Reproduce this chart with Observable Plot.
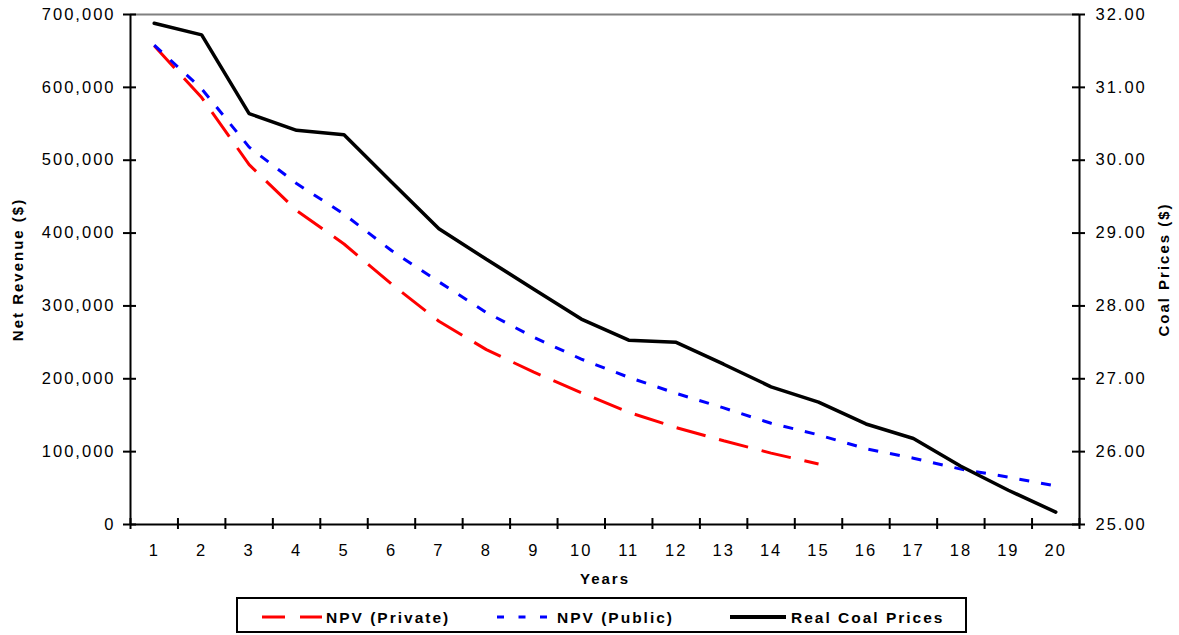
<!DOCTYPE html>
<html>
<head>
<meta charset="utf-8">
<script src="https://cdn.jsdelivr.net/npm/d3@7"></script>
<script src="https://cdn.jsdelivr.net/npm/@observablehq/plot@0.6"></script>
<style>
  body { margin: 0; background: #fff; }
  #wrap { position: relative; width: 1179px; height: 635px; background: #fff; overflow: hidden; }
  #wrap > svg.chart { position: absolute; left: 0; top: 0; }
  #wrap > svg#legend { position: absolute; left: 236px; top: 597px; }
</style>
</head>
<body>
<div id="wrap"></div>
<script>
// ---- data ----
const years = [1,2,3,4,5,6,7,8,9,10,11,12,13,14,15,16,17,18,19,20];
const npvPrivate = [657000, 586000, 494000, 431000, 385000, 330000, 279000, 240000, 209000, 181000, 154000, 133000, 115000, 98000, 83000];
const npvPublic = [658000, 598000, 518000, 468000, 426000, 376000, 333000, 291000, 257000, 227000, 202000, 180000, 160000, 139000, 123000, 104000, 91000, 76000, 65000, 53000];
const coalPrices = [31.88, 31.72, 30.64, 30.41, 30.35, 29.70, 29.06, 28.64, 28.23, 27.82, 27.53, 27.50, 27.20, 26.89, 26.68, 26.38, 26.18, 25.80, 25.47, 25.17];
const revenueTicks = [0, 100000, 200000, 300000, 400000, 500000, 600000, 700000];
const priceTicks = [25, 26, 27, 28, 29, 30, 31, 32];
const seriesNames = ["NPV (Private)", "NPV (Public)", "Real Coal Prices"];

// map right-axis prices onto the left-axis scale (25 -> 0, 32 -> 700,000)
const priceBase = priceTicks[0];
const priceUnit = (revenueTicks[revenueTicks.length - 1] - revenueTicks[0]) / (priceTicks[priceTicks.length - 1] - priceTicks[0]);
const priceToRev = p => (p - priceBase) * priceUnit;

const privateData = npvPrivate.map((v, i) => ({year: years[i], value: v}));
const publicData = npvPublic.map((v, i) => ({year: years[i], value: v}));
const coalData = coalPrices.map((v, i) => ({year: years[i], price: v}));

const xMin = years[0] - 0.5, xMax = years[years.length - 1] + 0.5;
const bandEdges = [xMin, ...years.map(y => y + 0.5)];

const font = "'Liberation Sans', Arial, Helvetica, sans-serif";

const chart = Plot.plot({
  className: "chart",
  width: 1179,
  height: 592,
  marginLeft: 130,
  marginRight: 100,
  marginTop: 14,
  marginBottom: 68,
  style: {fontFamily: font, fontSize: "16.5px", color: "#000", background: "#fff", letterSpacing: "2px"},
  x: {type: "linear", domain: [xMin, xMax]},
  y: {domain: [revenueTicks[0], revenueTicks[revenueTicks.length - 1]]},
  marks: [
    // frame
    Plot.ruleY([revenueTicks[revenueTicks.length - 1]], {stroke: "#808080", strokeWidth: 2}),
    Plot.ruleX([xMin], {stroke: "#000", strokeWidth: 2}),
    Plot.ruleX([xMax], {stroke: "#000", strokeWidth: 2}),
    Plot.ruleY([revenueTicks[0]], {stroke: "#000", strokeWidth: 2}),
    // crossing tick marks
    Plot.ruleY(revenueTicks, {y: d => d, x1: xMin, x2: xMin, insetLeft: -7, insetRight: -6, stroke: "#000", strokeWidth: 2}),
    Plot.ruleY(priceTicks, {y: priceToRev, x1: xMax, x2: xMax, insetLeft: -7, insetRight: -6, stroke: "#000", strokeWidth: 2}),
    Plot.ruleX(bandEdges, {x: d => d, y1: 0, y2: 0, insetTop: -6, insetBottom: -5, stroke: "#000", strokeWidth: 2}),
    // tick labels
    Plot.axisY({anchor: "left", ticks: revenueTicks, tickSize: 0, tickPadding: 15, tickFormat: d3.format(","), label: null}),
    Plot.axisY({anchor: "right", ticks: priceTicks.map(priceToRev), tickSize: 0, tickPadding: 16, tickFormat: d => (priceBase + d / priceUnit).toFixed(2), label: null}),
    Plot.axisX({anchor: "bottom", ticks: years, tickSize: 0, tickPadding: 20, tickFormat: d => String(d), label: null}),
    // axis titles
    Plot.text(["Net Revenue ($)"], {text: d => d, frameAnchor: "left", textAnchor: "middle", lineAnchor: "middle", dx: -112, rotate: -90, fontWeight: "bold", fontSize: 15}),
    Plot.text(["Coal Prices ($)"], {text: d => d, frameAnchor: "right", textAnchor: "middle", lineAnchor: "middle", dx: 85, rotate: -90, fontWeight: "bold", fontSize: 15}),
    Plot.text(["Years"], {text: d => d, frameAnchor: "bottom", textAnchor: "middle", lineAnchor: "middle", dy: 55, fontWeight: "bold", fontSize: 15}),
    // series
    Plot.line(privateData, {x: "year", y: "value", stroke: "#ff0000", strokeWidth: 3, strokeDasharray: "30,14", strokeLinecap: "butt", strokeLinejoin: "miter"}),
    Plot.line(publicData, {x: "year", y: "value", stroke: "#0000ff", strokeWidth: 3, strokeDasharray: "10,12", strokeLinecap: "butt", strokeLinejoin: "miter"}),
    Plot.line(coalData, {x: "year", y: d => priceToRev(d.price), stroke: "#000", strokeWidth: 3.5, strokeLinejoin: "miter"})
  ]
});

const wrap = document.getElementById("wrap");
wrap.appendChild(chart);

// legend (below the plot)
const ns = "http://www.w3.org/2000/svg";
const leg = document.createElementNS(ns, "svg");
leg.setAttribute("id", "legend");
leg.setAttribute("width", 731);
leg.setAttribute("height", 36);
leg.style.fontFamily = font;
leg.style.fontWeight = "bold";
leg.style.fontSize = "15.5px";
leg.style.letterSpacing = "2px";
function el(tag, attrs, text) {
  const e = document.createElementNS(ns, tag);
  for (const k in attrs) e.setAttribute(k, attrs[k]);
  if (text != null) e.textContent = text;
  leg.appendChild(e);
  return e;
}
el("rect", {x: 1, y: 1, width: 729, height: 34, fill: "#fff", stroke: "#000", "stroke-width": 2});
const legendItems = [
  {name: seriesNames[0], stroke: "#ff0000", width: 3, dash: "23,15", x1: 26, x2: 86, tx: 90},
  {name: seriesNames[1], stroke: "#0000ff", width: 3, dash: "7,14.5", x1: 261, x2: 312, tx: 321},
  {name: seriesNames[2], stroke: "#000", width: 4, dash: null, x1: 494, x2: 550, tx: 555}
];
for (const it of legendItems) {
  const a = {x1: it.x1, x2: it.x2, y1: 20, y2: 20, stroke: it.stroke, "stroke-width": it.width};
  if (it.dash) a["stroke-dasharray"] = it.dash;
  el("line", a);
  el("text", {x: it.tx, y: 25.5, fill: "#000"}, it.name);
}
wrap.appendChild(leg);
</script>
</body>
</html>
